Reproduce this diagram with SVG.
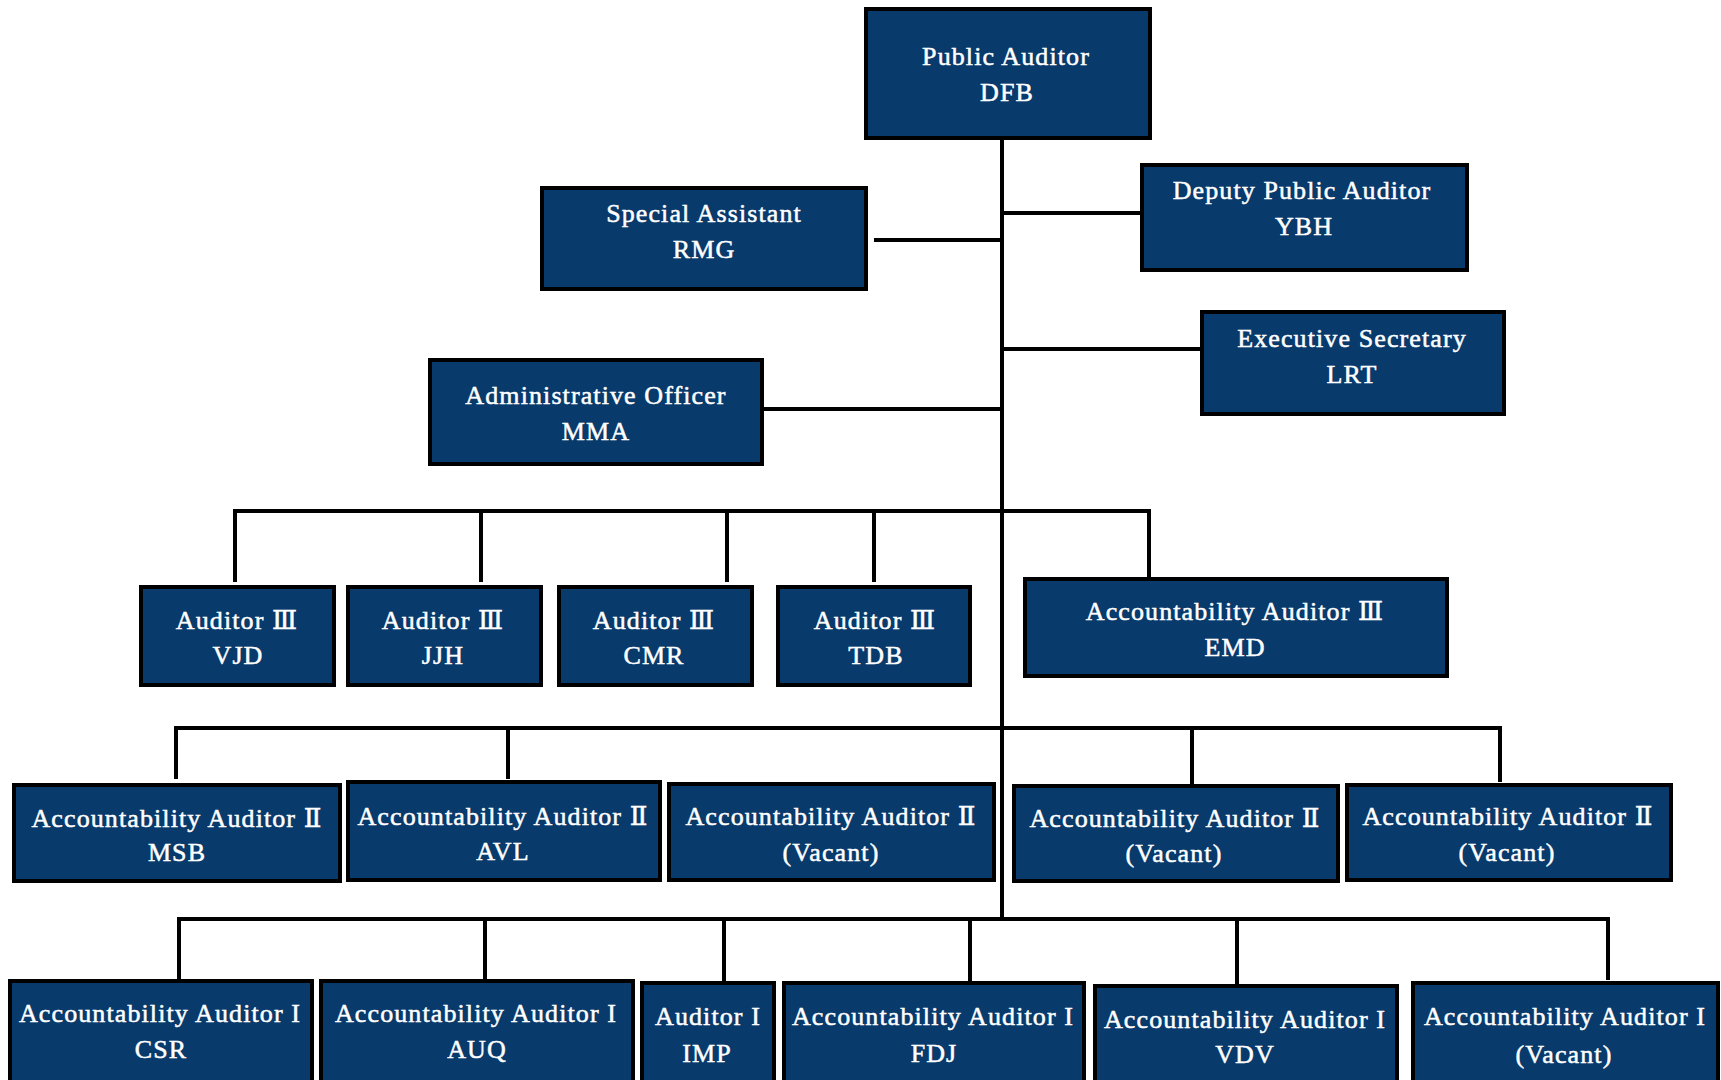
<svg xmlns="http://www.w3.org/2000/svg" width="1721" height="1080" viewBox="0 0 1721 1080">
<style>
.box{fill:#083a6c;stroke:#000;stroke-width:4}
.t{font-family:"Liberation Serif","DejaVu Serif",serif;font-size:26px;fill:#fff;stroke:#fff;stroke-width:0.5px;text-anchor:middle;letter-spacing:1.1px}
.c{stroke:#000;stroke-width:4;fill:none;stroke-linecap:square}
</style>
<rect width="1721" height="1080" fill="#fff"/>
<g id="connectors">
<line class="c" x1="1002" y1="140" x2="1002" y2="919"/>
<line class="c" x1="876" y1="240" x2="1002" y2="240"/>
<line class="c" x1="1002" y1="213" x2="1141" y2="213"/>
<line class="c" x1="1002" y1="349" x2="1201" y2="349"/>
<line class="c" x1="765" y1="409" x2="1002" y2="409"/>
<polyline class="c" points="235,580 235,511 1149,511 1149,576"/>
<line class="c" x1="481" y1="511" x2="481" y2="580"/>
<line class="c" x1="727" y1="511" x2="727" y2="580"/>
<line class="c" x1="874" y1="511" x2="874" y2="580"/>
<polyline class="c" points="176,777 176,728 1500,728 1500,780"/>
<line class="c" x1="508" y1="728" x2="508" y2="777"/>
<line class="c" x1="1192" y1="728" x2="1192" y2="782"/>
<polyline class="c" points="179,980 179,919 1608,919 1608,978"/>
<line class="c" x1="485" y1="919" x2="485" y2="980"/>
<line class="c" x1="724" y1="919" x2="724" y2="980"/>
<line class="c" x1="970" y1="919" x2="970" y2="980"/>
<line class="c" x1="1237" y1="919" x2="1237" y2="982"/>
</g>
<g id="public-auditor"><rect class="box" x="866" y="9" width="284" height="129"/><text class="t" x="1006" y="65">Public Auditor</text><text class="t" x="1007" y="101">DFB</text></g>
<g id="special-assistant"><rect class="box" x="542" y="188" width="324" height="101"/><text class="t" x="704" y="222">Special Assistant</text><text class="t" x="704" y="258">RMG</text></g>
<g id="deputy-public-auditor"><rect class="box" x="1142" y="165" width="325" height="105"/><text class="t" x="1302" y="199">Deputy Public Auditor</text><text class="t" x="1304" y="235">YBH</text></g>
<g id="executive-secretary"><rect class="box" x="1202" y="312" width="302" height="102"/><text class="t" x="1352" y="347">Executive Secretary</text><text class="t" x="1352" y="383">LRT</text></g>
<g id="administrative-officer"><rect class="box" x="430" y="360" width="332" height="104"/><text class="t" x="596" y="404">Administrative Officer</text><text class="t" x="596" y="440">MMA</text></g>
<g id="auditor3-vjd"><rect class="box" x="141" y="587" width="193" height="98"/><text class="t" x="237" y="629">Auditor Ⅲ</text><text class="t" x="238" y="664">VJD</text></g>
<g id="auditor3-jjh"><rect class="box" x="348" y="587" width="193" height="98"/><text class="t" x="443" y="629">Auditor Ⅲ</text><text class="t" x="443" y="664">JJH</text></g>
<g id="auditor3-cmr"><rect class="box" x="559" y="587" width="193" height="98"/><text class="t" x="654" y="629">Auditor Ⅲ</text><text class="t" x="654" y="664">CMR</text></g>
<g id="auditor3-tdb"><rect class="box" x="778" y="587" width="192" height="98"/><text class="t" x="875" y="629">Auditor Ⅲ</text><text class="t" x="876" y="664">TDB</text></g>
<g id="acc-auditor3-emd"><rect class="box" x="1025" y="579" width="422" height="97"/><text class="t" x="1235" y="620">Accountability Auditor Ⅲ</text><text class="t" x="1235" y="656">EMD</text></g>
<g id="acc-auditor2-msb"><rect class="box" x="14" y="785" width="326" height="96"/><text class="t" x="177" y="827">Accountability Auditor Ⅱ</text><text class="t" x="177" y="861">MSB</text></g>
<g id="acc-auditor2-avl"><rect class="box" x="348" y="782" width="312" height="98"/><text class="t" x="503" y="825">Accountability Auditor Ⅱ</text><text class="t" x="503" y="860">AVL</text></g>
<g id="acc-auditor2-vacant1"><rect class="box" x="669" y="784" width="325" height="96"/><text class="t" x="831" y="825">Accountability Auditor Ⅱ</text><text class="t" x="831" y="861">(Vacant)</text></g>
<g id="acc-auditor2-vacant2"><rect class="box" x="1014" y="786" width="324" height="95"/><text class="t" x="1175" y="827">Accountability Auditor Ⅱ</text><text class="t" x="1174" y="862">(Vacant)</text></g>
<g id="acc-auditor2-vacant3"><rect class="box" x="1347" y="785" width="324" height="95"/><text class="t" x="1508" y="825">Accountability Auditor Ⅱ</text><text class="t" x="1507" y="861">(Vacant)</text></g>
<g id="acc-auditor1-csr"><rect class="box" x="10" y="981" width="302" height="110"/><text class="t" x="160" y="1022">Accountability Auditor I</text><text class="t" x="161" y="1058">CSR</text></g>
<g id="acc-auditor1-auq"><rect class="box" x="321" y="981" width="312" height="110"/><text class="t" x="476" y="1022">Accountability Auditor I</text><text class="t" x="477" y="1058">AUQ</text></g>
<g id="auditor1-imp"><rect class="box" x="642" y="983" width="132" height="110"/><text class="t" x="708" y="1025">Auditor I</text><text class="t" x="707" y="1062">IMP</text></g>
<g id="acc-auditor1-fdj"><rect class="box" x="784" y="983" width="300" height="110"/><text class="t" x="933" y="1025">Accountability Auditor I</text><text class="t" x="934" y="1062">FDJ</text></g>
<g id="acc-auditor1-vdv"><rect class="box" x="1095" y="986" width="302" height="110"/><text class="t" x="1245" y="1028">Accountability Auditor I</text><text class="t" x="1245" y="1063">VDV</text></g>
<g id="acc-auditor1-vacant"><rect class="box" x="1413" y="983" width="305" height="110"/><text class="t" x="1565" y="1025">Accountability Auditor I</text><text class="t" x="1564" y="1063">(Vacant)</text></g>
</svg>
